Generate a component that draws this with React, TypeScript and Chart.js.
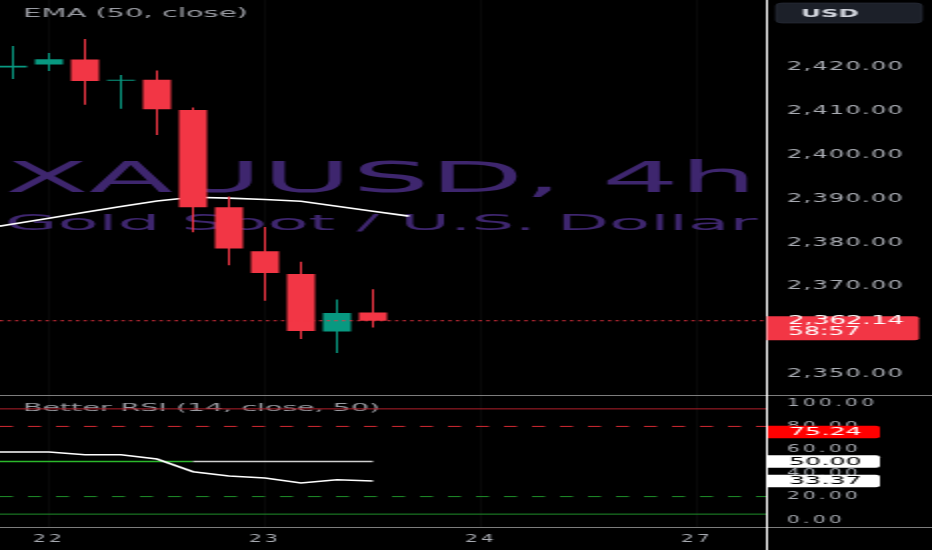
import React, { useEffect, useRef } from 'react';
import { Chart, registerables } from 'chart.js';

Chart.register(...registerables);

// ---------------- data ----------------
const candleIndex = [0, 1, 2, 3, 4, 5, 6, 7, 8, 9, 10];
const openPrices = [2419.9, 2420.6, 2421.7, 2416.9, 2417.1, 2410.2, 2388.0, 2378.0, 2372.8, 2359.7, 2364.0];
const highPrices = [2424.8, 2423.2, 2426.4, 2418.2, 2419.2, 2410.8, 2390.5, 2383.5, 2375.6, 2367.0, 2369.3];
const lowPrices = [2417.3, 2419.1, 2411.4, 2410.5, 2404.5, 2382.3, 2374.8, 2366.7, 2358.0, 2354.8, 2360.6];
const closePrices = [2420.3, 2421.8, 2416.8, 2417.0, 2410.4, 2388.0, 2378.6, 2373.0, 2359.8, 2363.9, 2362.14];

const emaIndex = [-1, 0, 1, 2, 3, 4, 5, 6, 7, 8, 9, 10, 11];
const emaValues = [2382.9, 2384.2, 2385.5, 2386.9, 2388.2, 2389.45, 2390.3, 2390.1, 2389.8, 2389.4, 2388.25, 2387.1, 2386.0];

const rsiIndex = [-1, 0, 1, 2, 3, 4, 5, 6, 7, 8, 9, 10];
const rsiValues = [58.2, 58.1, 58.1, 55.8, 55.8, 52.1, 41.3, 37.6, 35.9, 31.6, 34.4, 33.37];
const rsiMidValues = [50, 50, 50, 50, 50, 50, 50, 50, 50, 50, 50, 50];
const rsiLevels = [95, 80, 20, 5];
const rsiAxisLabelValues = [75.24, 50.0, 33.37];

const dayTickIndex = [1, 7, 13, 19];
const dayTickLabels = ['22', '23', '24', '27'];

const priceTickStep = 10;
const rsiTickStep = 20;
const countdownText = '58:57';
const symbolTitle = 'XAUUSD, 4h';
const symbolDesc = 'Gold Spot / U.S. Dollar';
const emaTitle = 'EMA (50, close)';
const rsiTitle = 'Better RSI (14, close, 50)';
const currencyText = 'USD';

// ---------------- styles / layout ----------------
const W = 466; // logical width, stretched x2 by CSS
const CSS_W = 932;
const MAIN_H = 395;
const RSI_H = 155;
const AXIS_W = 82.5;
const BAR_STEP = 18; // logical px per candle
const X_MIN = -6.5 / BAR_STEP;
const X_MAX = X_MIN + (W - AXIS_W) / BAR_STEP;
const GREEN = '#089981';
const RED = '#f23645';
const TICK_COLOR = '#a9acb3';
const FONT = '"DejaVu Sans", sans-serif';
const levelColors = ['#b0202b', '#d42a33', '#1f8f2a', '#1f8f2a'];
const levelDashed = [false, true, true, false];
const rsiLabelBg = ['#ff0000', '#ffffff', '#ffffff'];
const rsiLabelFg = ['#ffffff', '#000000', '#000000'];

Chart.defaults.font.family = FONT;

const fmtPrice = (v: number) =>
  v.toLocaleString('en-US', { minimumFractionDigits: 2, maximumFractionDigits: 2 });

function drawText(
  ctx: any, text: string, x: number, y: number, font: string, color: string,
  fitWidth?: number, baseline: string = 'alphabetic'
) {
  ctx.save();
  ctx.letterSpacing = '0px';
  ctx.font = font;
  ctx.fillStyle = color;
  ctx.textAlign = 'left';
  ctx.textBaseline = baseline;
  const w = ctx.measureText(text).width;
  const sx = fitWidth ? fitWidth / w : 1;
  ctx.translate(x, y);
  ctx.scale(sx, 1);
  ctx.fillText(text, 0, 0);
  ctx.restore();
}

function roundRectPath(ctx: any, x: number, y: number, w: number, h: number, rl: number, rr: number) {
  ctx.beginPath();
  ctx.moveTo(x + rl, y);
  ctx.lineTo(x + w - rr, y);
  ctx.quadraticCurveTo(x + w, y, x + w, y + rr);
  ctx.lineTo(x + w, y + h - rr);
  ctx.quadraticCurveTo(x + w, y + h, x + w - rr, y + h);
  ctx.lineTo(x + rl, y + h);
  ctx.quadraticCurveTo(x, y + h, x, y + h - rl);
  ctx.lineTo(x, y + rl);
  ctx.quadraticCurveTo(x, y, x + rl, y);
  ctx.closePath();
}

const mainDeco = {
  id: 'mainDeco',
  beforeDraw(chart: any) {
    const ctx = chart.ctx;
    ctx.save();
    ctx.fillStyle = '#000';
    ctx.fillRect(0, 0, chart.width, chart.height);
    ctx.restore();
    ctx.letterSpacing = '0.65px';
  },
  beforeDatasetsDraw(chart: any) {
    const ctx = chart.ctx;
    const ca = chart.chartArea;
    ctx.save();
    ctx.beginPath();
    ctx.rect(ca.left, ca.top, ca.right - ca.left, ca.bottom - ca.top);
    ctx.clip();
    drawText(ctx, symbolTitle, 2.5, 192, `42px ${FONT}`, '#3e266e', 376);
    drawText(ctx, symbolDesc, 2.5, 230, `22px ${FONT}`, '#3e266e', 376);
    ctx.restore();
  },
  afterDatasetsDraw(chart: any) {
    const ctx = chart.ctx;
    const ca = chart.chartArea;
    const last = closePrices[closePrices.length - 1];
    const y = chart.scales.y.getPixelForValue(last);
    ctx.save();
    ctx.strokeStyle = RED;
    ctx.lineWidth = 1;
    ctx.setLineDash([1.6, 2.2]);
    ctx.beginPath();
    ctx.moveTo(ca.left, y);
    ctx.lineTo(ca.right, y);
    ctx.stroke();
    ctx.restore();
    drawText(ctx, emaTitle, 11.5, 16.7, `11.5px ${FONT}`, '#9a9ca3', 112.5);
  },
  afterDraw(chart: any) {
    const ctx = chart.ctx;
    const ca = chart.chartArea;
    ctx.save();
    ctx.strokeStyle = '#ffffff';
    ctx.lineWidth = 1;
    ctx.beginPath();
    ctx.moveTo(ca.right, 0);
    ctx.lineTo(ca.right, chart.height);
    ctx.stroke();
    roundRectPath(ctx, 388, 3, 73, 20, 3, 3);
    ctx.fillStyle = '#1c2029';
    ctx.fill();
    ctx.strokeStyle = '#2c313c';
    ctx.lineWidth = 0.6;
    ctx.stroke();
    ctx.restore();
    drawText(ctx, currencyText, 400.5, 17, `bold 10.5px ${FONT}`, '#d1d4dc', 29);
    const last = closePrices[closePrices.length - 1];
    const y = chart.scales.y.getPixelForValue(last);
    ctx.save();
    roundRectPath(ctx, ca.right, y - 4.6, 76, 24, 0, 2);
    ctx.fillStyle = RED;
    ctx.fill();
    ctx.restore();
    drawText(ctx, fmtPrice(last), 394, y + 0.5, `11.5px ${FONT}`, '#ffffff', 58, 'middle');
    drawText(ctx, countdownText, 394, y + 11.5, `11.5px ${FONT}`, '#ffffff', 36.3, 'middle');
  },
};

const rsiDeco = {
  id: 'rsiDeco',
  beforeDraw(chart: any) {
    const ctx = chart.ctx;
    ctx.save();
    ctx.fillStyle = '#000';
    ctx.fillRect(0, 0, chart.width, chart.height);
    ctx.restore();
    ctx.letterSpacing = '1.7px';
  },
  beforeDatasetsDraw(chart: any) {
    const ctx = chart.ctx;
    const ca = chart.chartArea;
    drawText(ctx, rsiTitle, 11.5, 16, `10.5px ${FONT}`, '#9a9ca3', 178.5);
    const ys = chart.scales.y;
    rsiLevels.forEach((lv, i) => {
      const y = ys.getPixelForValue(lv);
      ctx.save();
      ctx.strokeStyle = levelColors[i];
      ctx.lineWidth = 1;
      ctx.setLineDash(levelDashed[i] ? [6.5, 7.5] : []);
      ctx.beginPath();
      ctx.moveTo(ca.left, y);
      ctx.lineTo(ca.right, y);
      ctx.stroke();
      ctx.restore();
    });
  },
  afterDraw(chart: any) {
    const ctx = chart.ctx;
    const ca = chart.chartArea;
    ctx.save();
    ctx.strokeStyle = '#7d7d7d';
    ctx.lineWidth = 1;
    ctx.beginPath();
    ctx.moveTo(0, 0.5);
    ctx.lineTo(chart.width, 0.5);
    ctx.moveTo(0, ca.bottom + 0.5);
    ctx.lineTo(chart.width, ca.bottom + 0.5);
    ctx.stroke();
    ctx.strokeStyle = '#ffffff';
    ctx.beginPath();
    ctx.moveTo(ca.right, 0);
    ctx.lineTo(ca.right, chart.height);
    ctx.stroke();
    ctx.restore();
    const ys = chart.scales.y;
    rsiAxisLabelValues.forEach((v, i) => {
      const y = ys.getPixelForValue(v);
      ctx.save();
      roundRectPath(ctx, ca.right + 0.5, y - 6.3, 56, 12.6, 0, 2);
      ctx.fillStyle = rsiLabelBg[i];
      ctx.fill();
      ctx.restore();
      drawText(ctx, v.toFixed(2), 394.5, y + 0.5, `10.5px ${FONT}`, rsiLabelFg[i], 36.3, 'middle');
    });
  },
};

function setDayTicks(scale: any) {
  scale.ticks = dayTickIndex.map((v) => ({ value: v }));
}

function mainConfig(): any {
  const colors = candleIndex.map((i) => (closePrices[i] >= openPrices[i] ? GREEN : RED));
  return {
    type: 'bar',
    data: {
      datasets: [
        {
          type: 'line',
          label: 'EMA',
          data: emaIndex.map((x, i) => ({ x, y: emaValues[i] })),
          borderColor: '#ffffff',
          borderWidth: 1.6,
          pointRadius: 0,
          tension: 0,
          order: 3,
        },
        {
          type: 'bar',
          label: 'wicks',
          data: candleIndex.map((x, i) => ({ x, y: [lowPrices[i], highPrices[i]] })),
          backgroundColor: colors,
          barThickness: 1,
          grouped: false,
          inflateAmount: 0,
          borderWidth: 0,
          order: 2,
        },
        {
          type: 'bar',
          label: 'bodies',
          data: candleIndex.map((x, i) => ({ x, y: [openPrices[i], closePrices[i]] })),
          backgroundColor: colors,
          barThickness: 14,
          grouped: false,
          inflateAmount: 0,
          borderWidth: 0,
          minBarLength: 1,
          order: 1,
        },
      ],
    },
    options: {
      responsive: false,
      animation: false,
      devicePixelRatio: 1,
      events: [],
      layout: { padding: 0 },
      plugins: { legend: { display: false }, tooltip: { enabled: false } },
      scales: {
        x: {
          type: 'linear',
          min: X_MIN,
          max: X_MAX,
          offset: false,
          afterBuildTicks: setDayTicks,
          ticks: { display: false },
          grid: { color: '#090909', drawTicks: false, offset: false },
          border: { display: false },
          afterFit: (s: any) => {
            s.height = 0;
            s.paddingLeft = 0;
            s.paddingRight = 0;
          },
        },
        y: {
          position: 'right',
          min: 2345.2,
          max: 2435.3,
          ticks: {
            stepSize: priceTickStep,
            includeBounds: false,
            padding: 10,
            color: (c: any) => (c.tick && c.tick.value > 2425 ? 'rgba(0,0,0,0)' : TICK_COLOR),
            font: { family: FONT, size: 12 },
            callback: (v: number) => fmtPrice(v),
          },
          grid: { display: false, drawTicks: false },
          border: { display: false },
          afterFit: (s: any) => {
            s.width = AXIS_W;
            s.paddingTop = 0;
            s.paddingBottom = 0;
          },
        },
      },
    },
    plugins: [mainDeco],
  };
}

function rsiConfig(): any {
  return {
    type: 'line',
    data: {
      datasets: [
        {
          label: 'RSI mid',
          data: rsiIndex.map((x, i) => ({ x, y: rsiMidValues[i] })),
          borderColor: '#cfcfcf',
          segment: {
            borderColor: (c: any) => (rsiValues[c.p0DataIndex] > 50 ? '#2bb82b' : '#cfcfcf'),
          },
          borderWidth: 1.3,
          pointRadius: 0,
          order: 2,
        },
        {
          label: 'RSI',
          data: rsiIndex.map((x, i) => ({ x, y: rsiValues[i] })),
          borderColor: '#ffffff',
          borderWidth: 1.6,
          pointRadius: 0,
          tension: 0,
          order: 1,
        },
      ],
    },
    options: {
      responsive: false,
      animation: false,
      devicePixelRatio: 1,
      events: [],
      layout: { padding: { top: 1, left: 0, right: 0, bottom: 0 } },
      plugins: { legend: { display: false }, tooltip: { enabled: false } },
      scales: {
        x: {
          type: 'linear',
          min: X_MIN,
          max: X_MAX,
          offset: false,
          afterBuildTicks: setDayTicks,
          ticks: {
            autoSkip: false,
            maxRotation: 0,
            padding: 6,
            color: TICK_COLOR,
            font: { family: FONT, size: 10 },
            callback: (v: number) => {
              const k = dayTickIndex.indexOf(v);
              return k >= 0 ? dayTickLabels[k] : '';
            },
          },
          grid: { color: '#090909', drawTicks: false, offset: false },
          border: { display: false },
          afterFit: (s: any) => {
            s.height = 23;
            s.paddingLeft = 0;
            s.paddingRight = 0;
          },
        },
        y: {
          position: 'right',
          min: -6,
          max: 106,
          ticks: {
            stepSize: rsiTickStep,
            includeBounds: false,
            padding: 10,
            color: TICK_COLOR,
            font: { family: FONT, size: 10 },
            callback: (v: number) => Number(v).toFixed(2),
          },
          grid: { display: false, drawTicks: false },
          border: { display: false },
          afterFit: (s: any) => {
            s.width = AXIS_W;
            s.paddingTop = 0;
            s.paddingBottom = 0;
          },
        },
      },
    },
    plugins: [rsiDeco],
  };
}

export default function App() {
  const mainRef = useRef<HTMLCanvasElement>(null);
  const rsiRef = useRef<HTMLCanvasElement>(null);

  useEffect(() => {
    document.body.style.margin = '0';
    document.body.style.background = '#000';
    const main = new Chart(mainRef.current as any, mainConfig());
    const rsi = new Chart(rsiRef.current as any, rsiConfig());
    return () => {
      main.destroy();
      rsi.destroy();
    };
  }, []);

  return (
    <div style={{ width: CSS_W, height: MAIN_H + RSI_H, background: '#000', overflow: 'hidden' }}>
      <canvas
        ref={mainRef}
        width={W}
        height={MAIN_H}
        style={{ display: 'block', width: CSS_W, height: MAIN_H }}
      />
      <canvas
        ref={rsiRef}
        width={W}
        height={RSI_H}
        style={{ display: 'block', width: CSS_W, height: RSI_H }}
      />
    </div>
  );
}
